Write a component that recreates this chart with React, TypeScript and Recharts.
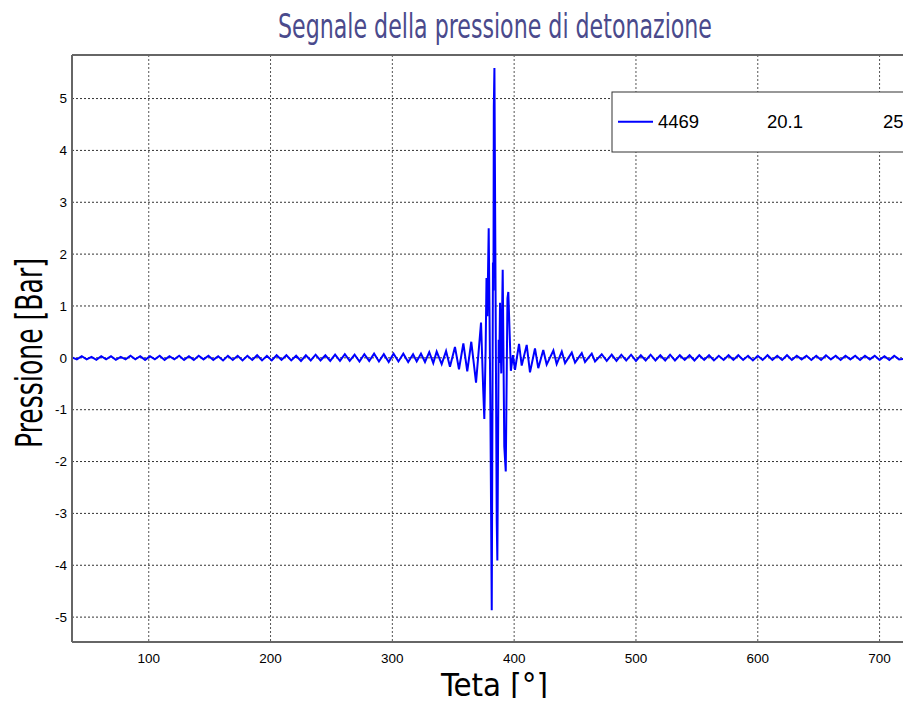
import React from 'react';
import { LineChart, Line, XAxis, YAxis, CartesianGrid, ReferenceLine } from 'recharts';

const title = 'Segnale della pressione di detonazione';
const xLabel = 'Teta [°]';
const yLabel = 'Pressione [Bar]';
const legendLabels = ['4469', '20.1', '25'];
const xTicks = [100, 200, 300, 400, 500, 600, 700];
const yTicks = [-5, -4, -3, -2, -1, 0, 1, 2, 3, 4, 5];
const xDomain: [number, number] = [37, 725.8];
const yDomain: [number, number] = [-5.48, 5.84];

const tetaLeft = [
  37, 41, 45, 49, 53, 57, 61, 65, 69, 73, 77, 81, 85, 89, 93, 97, 101, 105, 109, 113,
  117, 121, 125, 129, 133, 137, 141, 145, 149, 153, 157, 161, 165, 169, 173, 177, 181, 185, 189, 193,
  197, 201, 205, 209, 213, 217, 221, 225, 229, 233, 237, 241, 245, 249, 253, 257, 261, 265, 269, 273,
  277, 281, 285, 289, 293, 297, 301, 305, 309, 313, 317,
];
const pressLeft = [
  0.01, -0.03, 0.03, -0.03, 0.02, -0.04, 0.03, -0.03, 0.03, -0.04,
  0.02, -0.03, 0.04, -0.03, 0.03, -0.04, 0.03, -0.03, 0.04, -0.04,
  0.03, -0.03, 0.04, -0.04, 0.03, -0.04, 0.04, -0.03, 0.04, -0.04,
  0.03, -0.05, 0.04, -0.04, 0.04, -0.05, 0.04, -0.04, 0.05, -0.05,
  0.04, -0.05, 0.05, -0.04, 0.05, -0.05, 0.04, -0.06, 0.05, -0.05,
  0.06, -0.05, 0.05, -0.06, 0.06, -0.06, 0.07, -0.06, 0.06, -0.07,
  0.07, -0.06, 0.08, -0.07, 0.07, -0.08, 0.08, -0.07, 0.08, -0.08,
  0.07,
];

const tetaBurst = [
  320.0, 323.5, 326.8, 330.3, 333.6, 336.4, 340.5, 344.1, 347.3, 351.4,
  354.7, 358.3, 361.5, 364.8, 368.7, 372.8, 374.6, 375.5, 376.6, 377.3,
  378.0, 379.1, 380.4, 381.6, 382.6, 383.0, 383.3, 383.8, 385.7, 386.2,
  387.3, 387.8, 388.4, 389.4, 390.6, 391.9, 393.1, 394.5, 395.2, 397.3,
  399.0, 400.7, 404.0, 406.2, 410.3, 413.0, 417.1, 419.8, 423.9, 426.7,
  432.2, 434.9, 439.1, 441.8, 447.3, 450.0, 455.5, 458.2, 463.7, 466.4,
  471.9, 476.0, 480.1,
];
const pressBurst = [
  -0.07, 0.08, -0.08, 0.11, -0.10, 0.12, -0.12, 0.13, -0.17, 0.21,
  -0.22, 0.28, -0.26, 0.31, -0.48, 0.68, -0.62, -1.18, 0.20, 1.54,
  0.80, 2.50, -0.70, -4.87, 1.84, 1.30, 4.85, 5.59, -3.16, -3.91,
  0.35, -0.10, 1.06, -0.30, 1.70, -1.71, -2.19, 1.15, 1.27, -0.25,
  0.05, -0.23, 0.27, -0.15, 0.25, -0.28, 0.18, -0.20, 0.15, -0.13,
  0.14, -0.12, 0.12, -0.10, 0.10, -0.09, 0.09, -0.08, 0.08, -0.07,
  0.07, -0.06, 0.06,
];

const tetaRight = [
  484, 488, 492, 496, 500, 504, 508, 512, 516, 520, 524, 528, 532, 536, 540, 544, 548, 552, 556, 560,
  564, 568, 572, 576, 580, 584, 588, 592, 596, 600, 604, 608, 612, 616, 620, 624, 628, 632, 636, 640,
  644, 648, 652, 656, 660, 664, 668, 672, 676, 680, 684, 688, 692, 696, 700, 704, 708, 712, 716, 720,
];
const pressRight = [
  -0.06, 0.06, -0.05, 0.06, -0.06, 0.05, -0.05, 0.06, -0.05, 0.05,
  -0.05, 0.06, -0.05, 0.05, -0.04, 0.05, -0.05, 0.05, -0.04, 0.05,
  -0.05, 0.04, -0.04, 0.05, -0.04, 0.05, -0.04, 0.04, -0.05, 0.04,
  -0.04, 0.05, -0.04, 0.04, -0.04, 0.05, -0.04, 0.04, -0.03, 0.04,
  -0.04, 0.04, -0.04, 0.05, -0.03, 0.04, -0.04, 0.04, -0.03, 0.04,
  -0.04, 0.04, -0.03, 0.04, -0.04, 0.03, -0.04, 0.04, -0.03, -0.02,
];

const teta = [...tetaLeft, ...tetaBurst, ...tetaRight];
const pressione = [...pressLeft, ...pressBurst, ...pressRight];
const data = teta.map((t, i) => ({ teta: t, p: pressione[i] }));

const W = 903;
const H = 690;
const narrow = '"Liberation Sans Narrow", "DejaVu Sans Condensed", "Liberation Sans", sans-serif';
const sans = '"Liberation Sans", Arial, sans-serif';
const tickFont = { fill: '#000', fontSize: 13.5, fontFamily: sans };
const axisStyle = { stroke: '#666', strokeWidth: 2 };

export default function App() {
  return (
    <div style={{ position: 'relative', width: W, height: H, background: '#fff' }}>
      <LineChart width={W} height={H} data={data} margin={{ top: 47, right: 0, bottom: 0, left: 0 }}>
        <CartesianGrid horizontal vertical={false} stroke="#333" strokeDasharray="2 2" />
        <CartesianGrid horizontal={false} vertical stroke="#555" strokeDasharray="2 2" />
        <XAxis
          type="number"
          dataKey="teta"
          domain={xDomain}
          ticks={xTicks}
          allowDataOverflow
          height={56}
          tickLine={false}
          tickSize={0}
          tickMargin={11.5}
          axisLine={axisStyle}
          tick={tickFont}
        />
        <YAxis
          type="number"
          domain={yDomain}
          ticks={yTicks}
          allowDataOverflow
          width={64}
          tickLine={false}
          tickSize={0}
          tickMargin={5}
          axisLine={axisStyle}
          tick={tickFont}
        />
        <ReferenceLine y={yDomain[1]} stroke="#666" strokeWidth={2} />
        <Line
          type="linear"
          dataKey="p"
          stroke="#0000ff"
          strokeWidth={2}
          dot={false}
          isAnimationActive={false}
        />
      </LineChart>
      <svg
        width={911}
        height={702}
        style={{ position: 'absolute', left: -8, top: -8, pointerEvents: 'none' }}
      >
        <text
          x={495}
          y={38}
          textAnchor="middle"
          fontFamily={narrow}
          fontSize={34}
          fill="#4a4a8c"
          textLength={434}
          lengthAdjust="spacingAndGlyphs"
        >
          {title}
        </text>
        <text
          x={0}
          y={0}
          transform="translate(42,353) rotate(-90)"
          textAnchor="middle"
          fontFamily={narrow}
          fontSize={38}
          fill="#000"
          textLength={190}
          lengthAdjust="spacingAndGlyphs"
        >
          {yLabel}
        </text>
        <text
          x={494.5}
          y={695.5}
          textAnchor="middle"
          fontFamily={narrow}
          fontSize={32}
          fill="#000"
          textLength={107}
          lengthAdjust="spacingAndGlyphs"
        >
          {xLabel}
        </text>
        <rect x={612} y={92} width={330} height={60} fill="#fff" stroke="#333" strokeWidth={1} />
        <line x1={618} y1={121.7} x2={653} y2={121.7} stroke="#0000ff" strokeWidth={2} />
        <text x={658} y={128.3} fontFamily={sans} fontSize={18.5} fill="#000">
          {legendLabels[0]}
        </text>
        <text x={767} y={128.3} fontFamily={sans} fontSize={18.5} fill="#000">
          {legendLabels[1]}
        </text>
        <text x={883} y={128.3} fontFamily={sans} fontSize={18.5} fill="#000">
          {legendLabels[2]}
        </text>
      </svg>
    </div>
  );
}
